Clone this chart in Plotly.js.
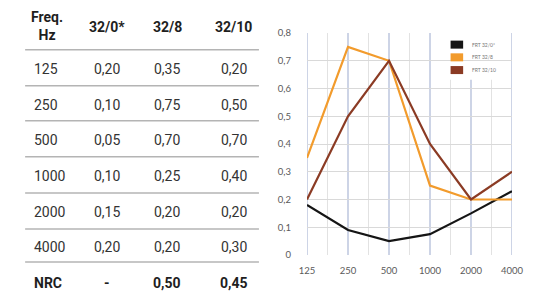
<!DOCTYPE html>
<html>
<head>
<meta charset="utf-8">
<script src="https://cdn.plot.ly/plotly-3.0.1.min.js"></script>
<style>html,body{margin:0;padding:0;background:#fff;}#chart{width:535px;height:293px;}</style>
</head>
<body>
<div id="chart"></div>
<script>
// ---- data ----
var freqs = ['125', '250', '500', '1000', '2000', '4000'];
var seriesNames = ['FRT 32/0*', 'FRT 32/8', 'FRT 32/10'];
var frt32_0 = [0.18, 0.09, 0.05, 0.075, 0.15, 0.23];
var frt32_8 = [0.35, 0.75, 0.70, 0.25, 0.20, 0.20];
var frt32_10 = [0.20, 0.50, 0.70, 0.40, 0.20, 0.30];

var tableHeader = ['Freq.<br>Hz', '32/0*', '32/8', '32/10'];
var tableFreq = ['125', '250', '500', '1000', '2000', '4000'];
var table32_0 = ['0,20', '0,10', '0,05', '0,10', '0,15', '0,20'];
var table32_8 = ['0,35', '0,75', '0,70', '0,25', '0,20', '0,20'];
var table32_10 = ['0,20', '0,50', '0,70', '0,40', '0,20', '0,30'];
var nrcRow = ['NRC', '-', '0,50', '0,45'];

// ---- geometry ----
var W = 535, H = 293, L = 306.7, R = 22.7, T = 33.4, B = 38;
var PW = W - L - R, PH = H - T - B;
function px(x) { return (x - L) / PW; }
function py(y) { return (H - B - y) / PH; }

var colors = ['#151515', '#f29b2c', '#8b3b24'];
var seriesData = [frt32_0, frt32_8, frt32_10];

var traces = seriesData.map(function (vals, i) {
  return {
    type: 'scatter', mode: 'lines', x: freqs, y: vals, name: seriesNames[i],
    line: {color: colors[i], width: 2.2}, showlegend: false, hoverinfo: 'skip'
  };
});

var shapes = [];
var annotations = [];

// grid: minor vertical lines at half-category positions
for (var k = 0; k < freqs.length - 1; k++) {
  shapes.push({type: 'line', xref: 'x', yref: 'paper', x0: k + 0.5, x1: k + 0.5, y0: 0, y1: 1,
    line: {color: '#e2e2e2', width: 1}, layer: 'below'});
}
// major vertical lines at categories
for (var k2 = 0; k2 < freqs.length; k2++) {
  shapes.push({type: 'line', xref: 'x', yref: 'paper', x0: k2, x1: k2, y0: 0, y1: 1,
    line: {color: '#cdd4e6', width: 2}, layer: 'below'});
}

// legend box (manual)
shapes.push({type: 'rect', xref: 'paper', yref: 'paper', x0: px(431.5), x1: px(510.5), y0: py(32), y1: py(80),
  fillcolor: '#ffffff', line: {width: 0}, layer: 'below'});
var legY = [45, 57.7, 70.4];
for (var s = 0; s < seriesNames.length; s++) {
  shapes.push({type: 'rect', xref: 'paper', yref: 'paper', x0: px(450.7), x1: px(463.3),
    y0: py(legY[s] - 4), y1: py(legY[s] + 4), fillcolor: colors[s], line: {width: 0}});
  annotations.push({xref: 'paper', yref: 'paper', x: px(470), y: py(legY[s]), text: seriesNames[s],
    showarrow: false, xanchor: 'left', yanchor: 'middle', font: {family: 'Lato', size: 5, color: '#777'}});
}

// ---- table ----
var tFont = 'Roboto';
var tSize = 14;
var colX = [46, 106, 166.5, 233];
var bodyColor = '#333333';
annotations.push({xref: 'paper', yref: 'paper', x: px(colX[0]), y: py(26.5), text: tableHeader[0],
  showarrow: false, xanchor: 'center', yanchor: 'middle', align: 'center',
  font: {family: tFont, size: tSize, color: '#1e1e1e', weight: 'bold'}});
for (var h = 1; h < tableHeader.length; h++) {
  annotations.push({xref: 'paper', yref: 'paper', x: px(colX[h]), y: py(27), text: tableHeader[h],
    showarrow: false, xanchor: 'center', yanchor: 'middle',
    font: {family: tFont, size: tSize, color: '#1e1e1e', weight: 'bold'}});
}
var rowY = [69, 104.8, 140.4, 176, 211.6, 247.2];
var cols = [table32_0, table32_8, table32_10];
for (var r = 0; r < tableFreq.length; r++) {
  annotations.push({xref: 'paper', yref: 'paper', x: px(30.5), y: py(rowY[r]), text: tableFreq[r],
    showarrow: false, xanchor: 'left', yanchor: 'middle', font: {family: tFont, size: tSize, color: bodyColor}});
  for (var c = 0; c < cols.length; c++) {
    annotations.push({xref: 'paper', yref: 'paper', x: px(colX[c + 1]), y: py(rowY[r]), text: cols[c][r],
      showarrow: false, xanchor: 'center', yanchor: 'middle', font: {family: tFont, size: tSize, color: bodyColor}});
  }
}
// NRC row
annotations.push({xref: 'paper', yref: 'paper', x: px(30.5), y: py(283), text: nrcRow[0],
  showarrow: false, xanchor: 'left', yanchor: 'middle', font: {family: tFont, size: tSize, color: '#1e1e1e', weight: 'bold'}});
for (var n = 1; n < nrcRow.length; n++) {
  annotations.push({xref: 'paper', yref: 'paper', x: px(colX[n]), y: py(283), text: nrcRow[n],
    showarrow: false, xanchor: 'center', yanchor: 'middle', font: {family: tFont, size: tSize, color: '#1e1e1e', weight: 'bold'}});
}
// separator lines
var sepY = [50, 86, 121, 157, 193, 229, 262];
sepY.forEach(function (yy) {
  shapes.push({type: 'line', xref: 'paper', yref: 'paper', x0: px(24), x1: px(258.5), y0: py(yy), y1: py(yy),
    line: {color: '#b4b4b4', width: 1.5}});
});

var layout = {
  width: W, height: H,
  margin: {l: L, r: R, t: T, b: B, pad: 0},
  paper_bgcolor: '#ffffff', plot_bgcolor: '#ffffff',
  separators: ', ',
  showlegend: false,
  xaxis: {
    type: 'category', range: [0, freqs.length - 1], showgrid: false, zeroline: false, showline: false,
    ticks: '', ticklabelstandoff: 8,
    tickfont: {family: 'Lato', size: 9.5, color: '#5a5a5a'}, fixedrange: true
  },
  yaxis: {
    range: [0, 0.8], dtick: 0.1, tick0: 0, showgrid: true, gridcolor: '#d9d9d9', gridwidth: 1,
    zeroline: false, showline: false, ticks: '', ticklabelstandoff: 15,
    tickfont: {family: 'Lato', size: 9.5, color: '#5a5a5a'}, fixedrange: true
  },
  shapes: shapes,
  annotations: annotations
};

Plotly.newPlot('chart', traces, layout, {displayModeBar: false, staticPlot: true});
</script>
</body>
</html>
